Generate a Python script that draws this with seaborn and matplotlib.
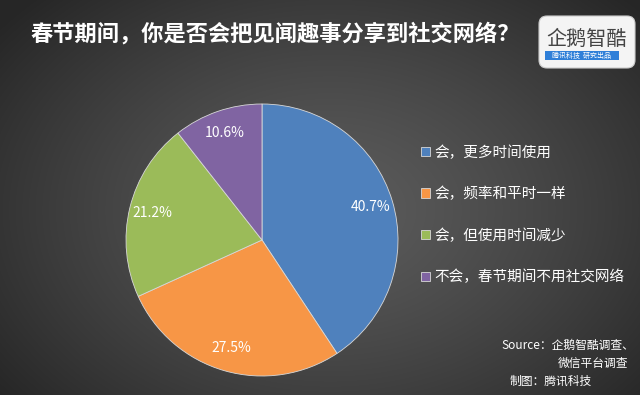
import numpy as np
import matplotlib.pyplot as plt
import seaborn as sns
from matplotlib.patches import FancyBboxPatch, Rectangle

# 数据
labels = ["会，更多时间使用", "会，频率和平时一样", "会，但使用时间减少", "不会，春节期间不用社交网络"]
shares = [40.7, 27.5, 21.2, 10.6]
colors = ["#4f81bd", "#f79646", "#9bbb59", "#8064a2"]
title = "春节期间，你是否会把见闻趣事分享到社交网络？"
source_lines = ["Source：企鹅智酷调查、", "微信平台调查", "制图：腾讯科技"]

sns.set_theme(style="white")
plt.rcParams['font.family'] = ['Noto Sans CJK SC', 'DejaVu Sans']

W, H = 640, 395
fig = plt.figure(figsize=(W / 100, H / 100), dpi=100)

# 背景：径向渐变
bg = fig.add_axes([0, 0, 1, 1])
yy, xx = np.mgrid[0:H, 0:W]
d = np.sqrt(((xx - 330) / 420.0) ** 2 + ((yy - 210) / 300.0) ** 2)
d = np.clip(d, 0, 1)
c0, c1 = 0.36, 0.15
img = c0 + (c1 - c0) * d ** 1.3
bg.imshow(np.dstack([img] * 3), extent=[0, W, H, 0], aspect='auto')
bg.set_xlim(0, W)
bg.set_ylim(H, 0)
bg.axis('off')

# 饼图
cx, cy, r = 262, 240, 136
ax = fig.add_axes([(cx - r) / W, (H - cy - r) / H, 2 * r / W, 2 * r / H])
wedges, texts, autotexts = ax.pie(
    shares, colors=colors, startangle=90, counterclock=False,
    autopct='%.1f%%', pctdistance=0.83,
    wedgeprops=dict(edgecolor='#d8d8d8', linewidth=0.6),
    textprops=dict(color='white', fontsize=10),
)
ax.set_xlim(-1, 1)
ax.set_ylim(-1, 1)
ax.set_aspect('auto')

# 图例
fig.legend(wedges, labels, loc='upper left', bbox_to_anchor=(414 / W, 1 - 138 / H),
           frameon=False, fontsize=10.5, labelcolor='white',
           handlelength=0.6, handleheight=0.6, handletextpad=0.3,
           labelspacing=1.85, borderpad=0)

# 标题
bg.text(30, 34, title, color='white', fontsize=16, fontweight='bold',
        ha='left', va='center')

# 来源
bg.text(634, 345, source_lines[0], color='white', fontsize=8.5, style='italic',
        ha='right', va='center')
bg.text(628, 363, source_lines[1], color='white', fontsize=8.5, style='italic',
        ha='right', va='center')
bg.text(510, 381, source_lines[2], color='white', fontsize=8.5, style='italic',
        ha='left', va='center')

# 标志
bg.add_patch(FancyBboxPatch((539, 16), 96, 52, boxstyle="round,pad=0,rounding_size=8",
                            facecolor='#f4f4f4', edgecolor='#cccccc', linewidth=0.8))
bg.text(587, 39, "企鹅智酷", color='#444444', fontsize=14.5, ha='center', va='center')
bg.add_patch(Rectangle((545, 51), 74, 9, facecolor='#2f7fd8', edgecolor='none'))
bg.text(582, 55.5, "腾讯科技  研究出品", color='white', fontsize=5, ha='center', va='center')

fig.savefig("out.png", dpi=100)
